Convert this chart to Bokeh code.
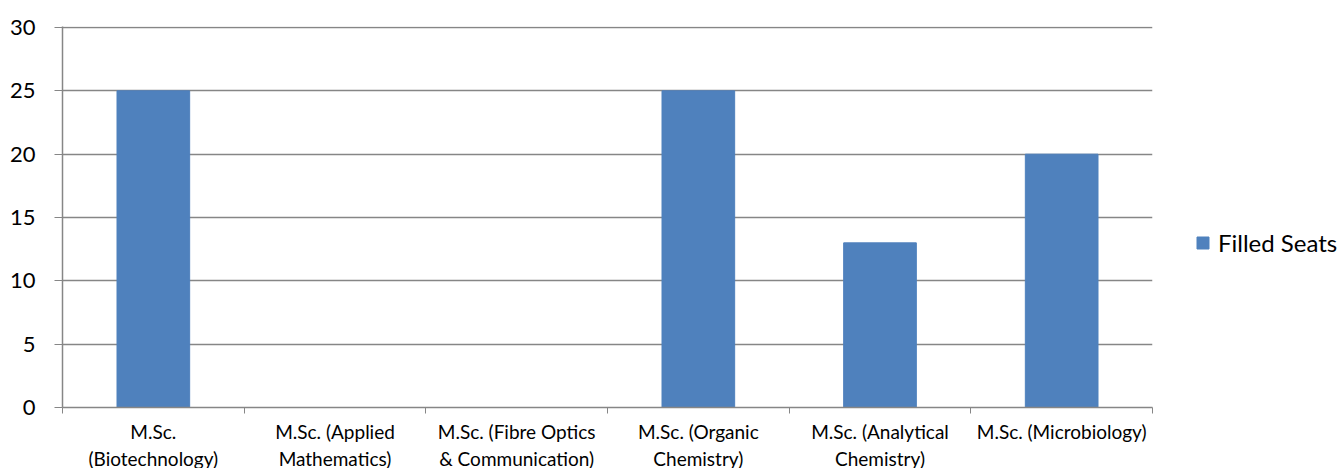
from bokeh.plotting import figure
from bokeh.models import ColumnDataSource, FixedTicker, Range1d, Legend, LegendItem
from bokeh.embed import file_html
from bokeh.resources import INLINE

categories = [
    "M.Sc.\n(Biotechnology)",
    "M.Sc. (Applied\nMathematics)",
    "M.Sc. (Fibre Optics\n& Communication)",
    "M.Sc. (Organic\nChemistry)",
    "M.Sc. (Analytical\nChemistry)",
    "M.Sc. (Microbiology)",
]
filled_seats = [25, 0, 0, 25, 13, 20]
y_ticks = [0, 5, 10, 15, 20, 25, 30]

FONT = "Lato"
GRAY = "#868686"

xs = [i + 0.5 for i in range(len(categories))]
src = ColumnDataSource(dict(x=xs, top=filled_seats))

p = figure(frame_width=1090, frame_height=381, output_backend="svg", toolbar_location=None,
           x_range=Range1d(0, len(categories)), y_range=Range1d(0, 30.08),
           min_border_left=62, min_border_right=0, min_border_top=26, min_border_bottom=61)
p.outline_line_color = None

r = p.vbar(x="x", top="top", width=0.4, source=src, color="#4F81BD")

p.xaxis.ticker = FixedTicker(ticks=xs, minor_ticks=list(range(len(categories) + 1)))
p.xaxis.major_label_overrides = {x: c for x, c in zip(xs, categories)}
p.xaxis.major_tick_out = 0
p.xaxis.major_tick_in = 0
p.xaxis.minor_tick_out = 6
p.xaxis.minor_tick_in = 0
p.xaxis.minor_tick_line_color = GRAY
p.xaxis.axis_line_color = GRAY
p.xaxis.axis_line_width = 1.5
p.xaxis.major_label_text_font = FONT
p.xaxis.major_label_text_font_size = "19px"
p.xaxis.major_label_text_color = "#000000"
p.xaxis.major_label_standoff = 6
p.xgrid.grid_line_color = None

p.yaxis.ticker = FixedTicker(ticks=y_ticks)
p.yaxis.minor_tick_line_color = None
p.yaxis.major_tick_out = 8
p.yaxis.major_tick_in = 0
p.yaxis.major_tick_line_color = GRAY
p.yaxis.axis_line_color = GRAY
p.yaxis.axis_line_width = 1.5
p.yaxis.major_label_text_font = FONT
p.yaxis.major_label_text_font_size = "22px"
p.yaxis.major_label_text_color = "#000000"
p.yaxis.major_label_standoff = 19
p.ygrid.grid_line_color = GRAY
p.ygrid.grid_line_width = 1.5

legend = Legend(items=[LegendItem(label="Filled Seats", renderers=[r])],
                location=(43, 150), padding=0, margin=0, border_line_color=None,
                background_fill_alpha=0, glyph_width=15, glyph_height=15,
                label_standoff=8, label_text_font=FONT, label_text_font_size="24px",
                label_text_color="#000000")
p.add_layout(legend, "right")

open("out.html", "w").write(file_html(p, INLINE))
